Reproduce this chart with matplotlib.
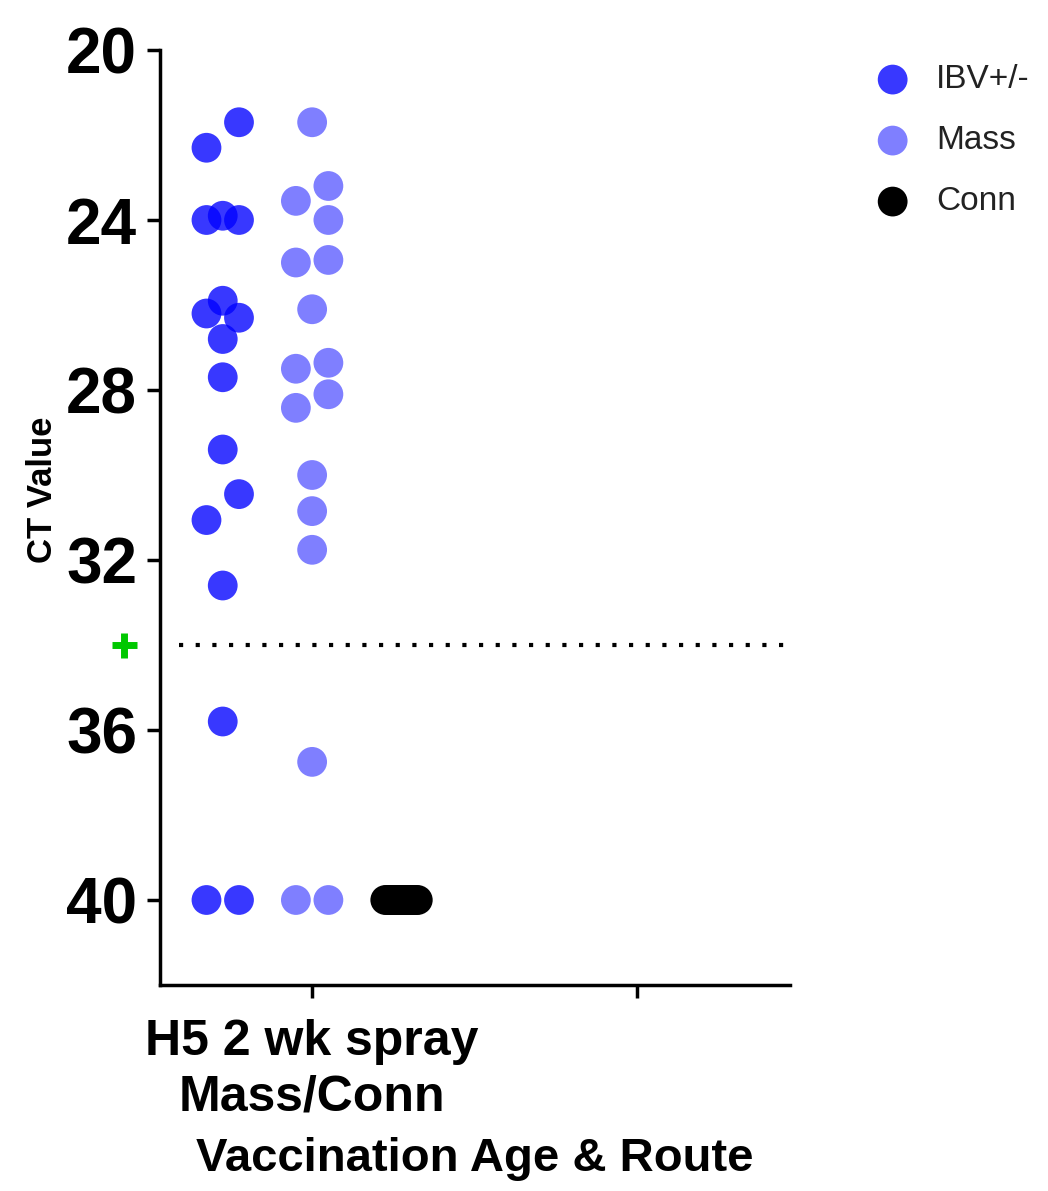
import matplotlib
matplotlib.use('Agg')
import matplotlib.pyplot as plt
import matplotlib.transforms as mtransforms
import numpy as np

plt.rcParams['font.family'] = 'Liberation Sans'

# CT values per group (40 = no detection)
ibv = [21.7, 22.3, 23.9, 24.0, 24.0, 25.9, 26.2, 26.3, 26.8, 27.7,
       29.4, 30.45, 31.06, 32.6, 35.8, 40, 40]
mass = [21.7, 23.2, 23.55, 24.0, 24.94, 25.0, 26.1, 27.36, 27.5, 28.1,
        28.42, 30.0, 30.85, 31.76, 36.75, 40, 40]
conn = [40] * 17

series = ['IBV+/-', 'Mass', 'Conn']
categories = ['H5 2 wk spray\nMass/Conn', '']
cutoff = 34
yticks = [20, 24, 28, 32, 36, 40]

colors = [(0, 0, 1, 0.78), (0, 0, 1, 0.5), (0, 0, 0, 1)]
shifts = [-0.275, 0.0, 0.275]   # where each series sits inside the category


def swarm(vals, gap=0.7, lane=0.1, maxspan=0.1):
    # spread points that would sit on top of each other into side-by-side lanes
    vals = np.asarray(vals, float)
    order = np.argsort(vals, kind='stable')
    offs = np.zeros(len(vals))
    groups, cur = [], [order[0]]
    for a, b in zip(order[:-1], order[1:]):
        if vals[b] - vals[a] < gap:
            cur.append(b)
        else:
            groups.append(cur)
            cur = [b]
    groups.append(cur)
    cands = [0] + [s * k for k in range(1, 40) for s in (-1, 1)]
    for g in groups:
        lanes = {}
        for i in g:
            for c in cands:
                if all(abs(vals[i] - vals[j]) >= gap for j, l in lanes.items() if l == c):
                    lanes[i] = c
                    break
        ls = np.array([lanes[i] for i in g], float)
        ls -= (ls.max() + ls.min()) / 2
        pos = ls * lane
        span = pos.max() - pos.min()
        if span > maxspan:
            pos *= maxspan / span
        offs[g] = pos
    return offs


fig = plt.figure(figsize=(10.48, 11.91), dpi=100)
ax = fig.add_axes([160/1048, 1 - 985/1191, 630/1048, 935/1191])

for vals, name, col, sh in zip([ibv, mass, conn], series, colors, shifts):
    x = 1 + sh + swarm(vals)
    ax.scatter(x, vals, s=460, color=col, edgecolors='none', label=name, zorder=3)

ax.axhline(cutoff, xmin=0.03, color='black', lw=3, dashes=(1, 3), zorder=2)

# green marker flagging the positive cutoff, just left of the axis
trans = mtransforms.blended_transform_factory(ax.transAxes, ax.transData)
ax.plot([-0.057], [cutoff], marker='+', ms=18, mew=5, color='#00c800',
        transform=trans, clip_on=False)

ax.set_ylim(42, 20)
ax.set_xlim(0.532, 2.47)
ax.set_yticks(yticks)
ax.set_xticks([1, 2])
ax.set_xticklabels(categories, fontsize=36, fontweight='bold', linespacing=1.25)
for lbl in ax.get_yticklabels():
    lbl.set_fontsize(46)
    lbl.set_fontweight('bold')

for side in ['top', 'right']:
    ax.spines[side].set_visible(False)
for side in ['left', 'bottom']:
    ax.spines[side].set_linewidth(2.5)
ax.tick_params(axis='both', length=9.5, width=2.5, direction='out')
ax.tick_params(axis='y', pad=7)
ax.tick_params(axis='x', pad=15)

ax.set_ylabel('CT Value', fontsize=25, fontweight='bold')
ax.yaxis.set_label_coords(-0.16, 0.53)
ax.set_xlabel('Vaccination Age & Route', fontsize=34, fontweight='bold', labelpad=12)

leg = ax.legend(loc='upper left', bbox_to_anchor=(876/1048, 0.946),
                bbox_transform=fig.transFigure, frameon=False, fontsize=24,
                handlelength=1.0, handletextpad=0.8, labelspacing=0.9,
                borderpad=0, borderaxespad=0, scatterpoints=1)
for t in leg.get_texts():
    t.set_color('#222222')

fig.savefig('out.png', dpi=100)
